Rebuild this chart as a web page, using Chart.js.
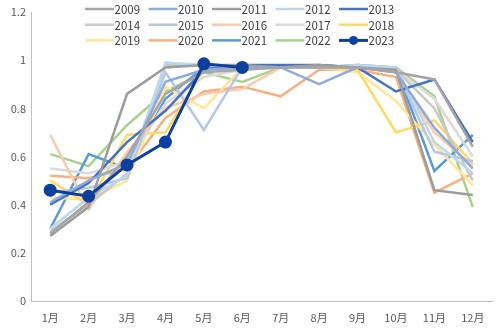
<!DOCTYPE html>
<html><head><meta charset="utf-8">
<script src="https://cdn.jsdelivr.net/npm/chart.js@4.4.0/dist/chart.umd.min.js"></script>
<style>html,body{margin:0;padding:0;background:#fff}#wrap{width:500px;height:333px}</style>
</head><body><div id="wrap"><canvas id="c" width="500" height="333"></canvas></div>
<script>
const months = ['1月','2月','3月','4月','5月','6月','7月','8月','9月','10月','11月','12月'];
const yTicks = [0, 0.2, 0.4, 0.6, 0.8, 1, 1.2];
const years = ['2009','2010','2011','2012','2013','2014','2015','2016','2017','2018','2019','2020','2021','2022','2023'];
const v2009 = [0.28, 0.41, 0.60, 0.86, 0.95, 0.96, 0.97, 0.97, 0.97, 0.95, 0.92, 0.64];
const v2010 = [0.41, 0.50, 0.57, 0.91, 0.96, 0.97, 0.97, 0.90, 0.97, 0.95, 0.72, 0.55];
const v2011 = [0.27, 0.39, 0.86, 0.97, 0.98, 0.98, 0.97, 0.98, 0.97, 0.96, 0.46, 0.44];
const v2012 = [0.30, 0.43, 0.52, 0.99, 0.98, 0.97, 0.97, 0.97, 0.98, 0.97, 0.66, 0.53];
const v2013 = [0.40, 0.49, 0.66, 0.79, 0.96, 0.98, 0.98, 0.98, 0.97, 0.87, 0.92, 0.66];
const v2014 = [0.29, 0.40, 0.53, 0.98, 0.98, 0.97, 0.97, 0.98, 0.97, 0.96, 0.80, 0.50];
const v2015 = [0.45, 0.47, 0.51, 0.95, 0.71, 0.97, 0.97, 0.97, 0.97, 0.96, 0.62, 0.58];
const v2016 = [0.69, 0.38, 0.62, 0.80, 0.86, 0.88, 0.97, 0.97, 0.97, 0.95, 0.70, 0.56];
const v2017 = [0.55, 0.53, 0.58, 0.82, 0.93, 0.96, 0.97, 0.97, 0.97, 0.96, 0.84, 0.60];
const v2018 = [0.50, 0.40, 0.69, 0.70, 0.96, 0.97, 0.97, 0.97, 0.96, 0.70, 0.75, 0.57];
const v2019 = [0.43, 0.42, 0.50, 0.89, 0.80, 0.97, 0.97, 0.97, 0.95, 0.83, 0.65, 0.48];
const v2020 = [0.52, 0.51, 0.55, 0.76, 0.87, 0.89, 0.85, 0.96, 0.96, 0.93, 0.45, 0.53];
const v2021 = [0.30, 0.61, 0.55, 0.84, 0.97, 0.97, 0.97, 0.97, 0.98, 0.97, 0.54, 0.69];
const v2022 = [0.61, 0.56, 0.73, 0.87, 0.95, 0.91, 0.97, 0.97, 0.97, 0.97, 0.85, 0.39];
const v2023 = [0.46, 0.435, 0.565, 0.66, 0.985, 0.97];
const values = [v2009,v2010,v2011,v2012,v2013,v2014,v2015,v2016,v2017,v2018,v2019,v2020,v2021,v2022,v2023];
const colors = ['#a5a5a5','#8faadc','#9c9c9c','#bdd7ee','#4472c4','#c9c9c9','#b4c7e7','#f8cbad','#dbdbdb','#ffd966','#ffe699','#f4b183','#5b9bd5','#a9d18e','#0d3f9c'];

const datasets = years.map((y,i)=>{
  const last = i === years.length-1;
  return {
    label: y, data: values[i], borderColor: colors[i], backgroundColor: colors[i],
    borderWidth: last ? 3 : 2.5, pointRadius: last ? 5 : 0, pointHoverRadius: last ? 5 : 0,
    pointBackgroundColor: colors[i], pointBorderColor: colors[i], tension: 0,
    order: last ? 0 : 1
  };
});

const legendPlugin = {
  id: 'gridLegend',
  afterDraw(chart){
    const ctx = chart.ctx;
    ctx.save();
    ctx.font = '11.5px "Noto Sans CJK SC", "Noto Sans", sans-serif';
    ctx.textBaseline = 'middle';
    ctx.fillStyle = '#404040';
    years.forEach((y,i)=>{
      const col = i%5, row = Math.floor(i/5);
      const x0 = 85 + col*63.5, yy = 9 + row*15.7;
      ctx.strokeStyle = colors[i];
      ctx.lineWidth = i===14 ? 3 : 2.5;
      ctx.beginPath(); ctx.moveTo(x0, yy); ctx.lineTo(x0+29, yy); ctx.stroke();
      if (i===14){ ctx.fillStyle = colors[i]; ctx.beginPath(); ctx.arc(x0+14.5, yy, 4.5, 0, Math.PI*2); ctx.fill(); ctx.fillStyle='#404040'; }
      ctx.fillText(y, x0+29.5, yy+0.5);
    });
    ctx.restore();
  }
};

new Chart(document.getElementById('c'), {
  type: 'line',
  data: { labels: months, datasets },
  options: {
    responsive: false, animation: false,
    layout: { padding: { top: 12, right: 5, left: 0, bottom: 0 } },
    plugins: { legend: { display: false }, tooltip: { enabled: false } },
    scales: {
      x: {
        offset: true,
        grid: { display: false, drawTicks: false },
        border: { color: '#bfbfbf', width: 1 },
        ticks: { color: '#595959', font: { size: 11, family: '"Noto Sans CJK SC", sans-serif' }, padding: 10, maxRotation: 0 },
        afterFit(s){ s.height = 32; }
      },
      y: {
        min: 0, max: 1.2,
        afterBuildTicks(s){ s.ticks = yTicks.map(v=>({value:v})); },
        grid: { display: false, drawTicks: false },
        border: { color: '#bfbfbf', width: 1 },
        ticks: { color: '#595959', font: { size: 11, family: '"Noto Sans CJK SC", sans-serif' }, padding: 5,
          callback: v => String(Math.round(v*10)/10) },
        afterFit(s){ s.width = 31; }
      }
    }
  },
  plugins: [legendPlugin]
});
</script></body></html>
